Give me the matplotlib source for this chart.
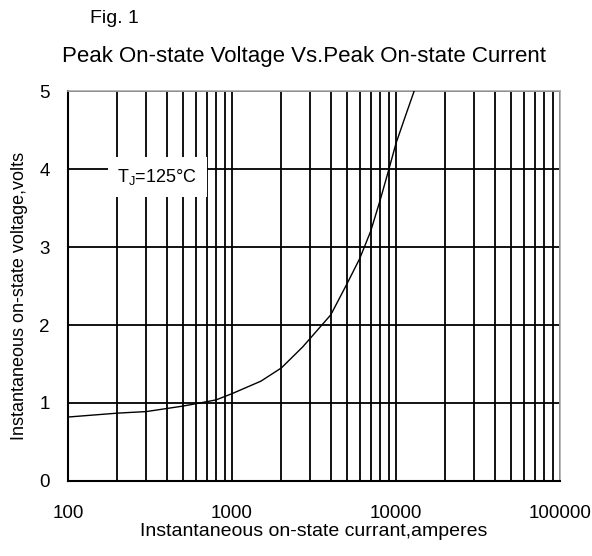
import numpy as np
import matplotlib
matplotlib.use("Agg")
import matplotlib.pyplot as plt
from matplotlib.ticker import LogLocator, FixedLocator, NullFormatter

plt.rcParams['font.family'] = ['Liberation Sans', 'DejaVu Sans']

# curve: current (A) vs voltage (V)
current = [100, 200, 300, 500, 600, 800, 1000, 1500, 2000, 2700, 3000,
           4000, 5000, 6000, 7000, 8000, 9000, 10000, 11500, 12900]
voltage = [0.82, 0.87, 0.89, 0.96, 0.99, 1.04, 1.12, 1.28, 1.45, 1.72, 1.83,
           2.13, 2.52, 2.85, 3.2, 3.6, 3.98, 4.33, 4.7, 5.0]

x_ticks = [100, 1000, 10000, 100000]
x_ticklabels = ["100", "1000", "10000", "100000"]
y_ticks = [0, 1, 2, 3, 4, 5]

fig = plt.figure(figsize=(5.92, 5.56), dpi=100)
ax = fig.add_axes([0.1149, 0.1349, 0.8311, 0.7014])

ax.set_xscale("log")
ax.set_xlim(100, 100000)
ax.set_ylim(0, 5)
ax.xaxis.set_major_locator(FixedLocator(x_ticks))
ax.set_xticklabels(x_ticklabels)
ax.xaxis.set_minor_locator(LogLocator(base=10, subs=np.arange(2, 10)))
ax.xaxis.set_minor_formatter(NullFormatter())
ax.set_yticks(y_ticks)

ax.grid(True, which="both", axis="x", color="black", lw=1.3)
ax.grid(True, which="major", axis="y", color="black", lw=1.3)
ax.set_axisbelow(True)

ax.plot(current, voltage, color="black", lw=1.0, zorder=3)

for s in ["left", "bottom"]:
    ax.spines[s].set_color("black")
    ax.spines[s].set_linewidth(1.5)
for s in ["top", "right"]:
    ax.spines[s].set_color("#aaaaaa")
    ax.spines[s].set_linewidth(1.2)

ax.tick_params(which="both", length=0, labelsize=13.5)
ax.tick_params(axis="y", pad=13)
ax.tick_params(axis="x", pad=17)

ax.text(350, 3.9, "T$_\\mathregular{J}$=125°C", fontsize=13, ha="center", va="center",
        zorder=4, bbox=dict(facecolor="white", edgecolor="none", pad=7))

ax.set_xlabel("Instantaneous on-state currant,amperes", fontsize=14, labelpad=1)
ax.set_ylabel("Instantaneous on-state voltage,volts", fontsize=13)
ax.yaxis.set_label_coords(-0.082, 0.475)

fig.text(0.152, 0.967, "Fig. 1", fontsize=14, ha="left", va="center")
fig.text(0.513, 0.898, "Peak On-state Voltage Vs.Peak On-state Current", fontsize=16,
         ha="center", va="center")

fig.savefig("out.png", dpi=100)
